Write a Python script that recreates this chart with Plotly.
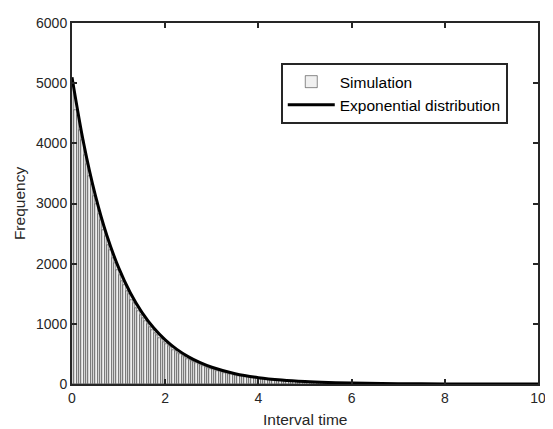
import plotly.graph_objects as go

# histogram bin centres (width 0.05) and counts
bin_width = 0.05
bin_centers = [round(0.025 + 0.05 * k, 3) for k in range(200)]
counts = [
    4980, 4560, 4470, 4230, 4060, 3810, 3660, 3450, 3320, 3120,
    2990, 2830, 2720, 2560, 2460, 2310, 2230, 2090, 2010, 1890,
    1820, 1710, 1650, 1550, 1490, 1400, 1350, 1270, 1220, 1150,
    1105, 1040, 1000, 940, 905, 850, 818, 770, 740, 698,
    670, 630, 607, 570, 548, 518, 496, 468, 449, 423,
    407, 383, 368, 346, 333, 312, 302, 283, 272, 256,
    246, 231, 223, 209, 202, 189, 183, 171, 165, 154,
    150, 140, 136, 126, 123, 114, 111, 103, 101, 93,
    91, 85, 83, 76, 75, 68, 68, 62, 62, 57,
    56, 51, 51, 46, 46, 42, 42, 38, 38, 34,
    34, 31, 31, 28, 28, 25, 26, 23, 23, 20,
    21, 18, 19, 16, 17, 14, 15, 13, 13, 12,
    12, 11, 11, 10, 10, 9, 9, 8, 8, 7,
    7, 7, 6, 6, 5, 5, 5, 5, 4, 4,
    4, 4, 3, 3, 3, 3, 3, 2, 2, 2,
    2, 2, 2, 2, 2, 1, 1, 1, 1, 1,
    1, 1, 1, 1, 1, 1, 1, 0, 1, 0,
    1, 0, 0, 1, 0, 0, 0, 0, 1, 0,
    0, 0, 0, 0, 0, 0, 0, 0, 0, 0,
    0, 0, 0, 0, 0, 0, 0, 0, 0, 0,
]

# fitted exponential curve
curve_x = [0, 0.25, 0.5, 0.75, 1.0, 1.25, 1.5, 1.75, 2.0, 2.25, 2.5, 2.75,
           3.0, 3.5, 4.0, 4.5, 5.0, 5.5, 6.0, 7.0, 8.0, 9.0, 10.0]
curve_y = [5100, 4002, 3140, 2464, 1934, 1517, 1191, 934, 733, 575, 451, 354,
           278, 171, 105, 65, 40, 25, 15, 6, 2, 1, 0]

x_ticks = [0, 2, 4, 6, 8, 10]
y_ticks = [0, 1000, 2000, 3000, 4000, 5000, 6000]

fig = go.Figure()
fig.add_trace(go.Bar(
    x=bin_centers, y=counts, width=bin_width, name="Simulation",
    marker=dict(color="#f0f0f0", line=dict(color="#1a1a1a", width=0.5)),
))
fig.add_trace(go.Scatter(
    x=curve_x, y=curve_y, mode="lines", name="Exponential distribution",
    line=dict(color="#000000", width=3, shape="spline"),
))

axis_common = dict(
    showline=True, linecolor="#262626", linewidth=2, mirror="ticks",
    ticks="inside", ticklen=5, tickwidth=1.5, tickcolor="#262626",
    showgrid=False, zeroline=False,
    tickfont=dict(family="Liberation Sans, Arial", size=14, color="#262626"),
)

# the page body has an 8px margin, so the figure is 8px smaller and margins shifted
fig.update_layout(
    width=545, height=421,
    margin=dict(l=64, r=12, t=7, b=45),
    paper_bgcolor="white", plot_bgcolor="white",
    bargap=0,
    font=dict(family="Liberation Sans, Arial", size=15, color="#000000"),
    xaxis=dict(range=[0, 10], tickvals=x_ticks, **axis_common),
    yaxis=dict(range=[0, 6000], tickvals=y_ticks,
               title=dict(text="Frequency", standoff=7,
                          font=dict(size=15.5, color="#262626")),
               **axis_common),
    legend=dict(x=0.448, y=0.889, xanchor="left", yanchor="top",
                bgcolor="white", bordercolor="#262626", borderwidth=2,
                font=dict(size=15.5, color="#000000"),
                tracegroupgap=0, itemwidth=47),
    showlegend=True,
    annotations=[dict(text="Interval time", x=0.5, y=0, xref="paper", yref="paper",
                      xanchor="center", yanchor="top", yshift=-25, showarrow=False,
                      font=dict(size=15.5, color="#262626"))],
)

fig.write_html("out.html")
